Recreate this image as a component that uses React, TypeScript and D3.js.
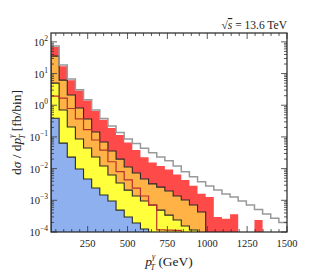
import React from 'react';
import * as d3 from 'd3';

// 29 equal bins from 20 to 1500 GeV
const binEdges = [
  20, 71, 122, 173, 224, 275, 326, 377, 428, 479, 530, 581, 632, 683, 734,
  786, 837, 888, 939, 990, 1041, 1092, 1143, 1194, 1245, 1296, 1347, 1398, 1449, 1500
];

// fb/bin per bin (0 = empty)
const redFill = [
  69, 17, 6.2, 2.9, 1.4, 0.66, 0.35, 0.19, 0.115, 0.067, 0.039, 0.023, 0.0156, 0.012,
  0.0094, 0.0065, 0.0044, 0.0029, 0.0016, 0.00127, 0.0003, 0.00026, 0.00036, 0, 0,
  0.00024, 0, 0, 0
];
const orangeFill = [
  35.6, 6.2, 2.1, 0.82, 0.37, 0.143, 0.069, 0.036, 0.02, 0.0112, 0.0073, 0.0047, 0.0033,
  0.0026, 0.00196, 0.00137, 0.00102, 0.00071, 0.00043, 0, 0, 0, 0, 0, 0, 0, 0, 0, 0
];
const yellowFill = [
  5.0, 0.71, 0.205, 0.086, 0.0447, 0.0232, 0.0121, 0.0063, 0.0035, 0.0021, 0.00137,
  0.00095, 0.00071, 0.00049, 0.00034, 0.00024, 0.000155, 0.000116, 0, 0, 0, 0, 0, 0, 0,
  0, 0, 0, 0
];
const blueFill = [
  0.39, 0.064, 0.023, 0.0097, 0.0047, 0.00244, 0.00147, 0.00095, 0.00049, 0.000297,
  0.000192, 0.000124, 0, 0, 0, 0, 0, 0, 0, 0, 0, 0, 0, 0, 0, 0, 0, 0, 0
];
const darkRedLine = [
  1.95, 1.69, 0.79, 0.37, 0.171, 0.08, 0.0386, 0.0165, 0.008, 0.0044, 0.00244, 0.00137,
  0.00071, 0.000116, 0.000115, 0.000112, 0, 0, 0, 0, 0, 0, 0, 0, 0, 0, 0, 0, 0
];
const grayLine = [
  74, 18.5, 6.7, 3.1, 1.5, 0.71, 0.38, 0.22, 0.138, 0.086, 0.062, 0.044, 0.0318, 0.0232,
  0.0178, 0.0121, 0.008, 0.00555, 0.00386, 0.00283, 0.00211, 0.00158, 0.00127, 0.00095,
  0.00071, 0.00051, 0.00037, 0.00027, 0.0002
];

const xMajorTicks = [250, 500, 750, 1000, 1250, 1500];
const yDecades = [-4, -3, -2, -1, 0, 1, 2];

const W = 319;
const H = 277;
const left = 51;
const right = 287;
const top = 33;
const bottom = 232;
const font = "'Liberation Serif', 'DejaVu Serif', serif";

const x = d3.scaleLinear().domain([20, 1500]).range([left, right]);
const y = d3.scaleLog().domain([1e-4, Math.pow(10, 2.28)]).range([bottom, top]);

// step outline through the bins, empty bins go below the frame
const stepPath = (vals: number[], closed: boolean) => {
  const yv = (v: number) => (v > 0 ? y(v) : bottom + 3);
  const pts: [number, number][] = [];
  if (closed) pts.push([x(binEdges[0]), bottom + 3]);
  vals.forEach((v, i) => {
    pts.push([x(binEdges[i]), yv(v)]);
    pts.push([x(binEdges[i + 1]), yv(v)]);
  });
  if (closed) pts.push([x(binEdges[binEdges.length - 1]), bottom + 3]);
  return d3.line()(pts) + (closed ? 'Z' : '');
};

const Ticks = () => {
  const items: JSX.Element[] = [];
  const minorX = d3.range(50, 1500, 50).filter((t) => t % 250 !== 0);
  minorX.forEach((t) => {
    items.push(<line key={'bx' + t} x1={x(t)} x2={x(t)} y1={bottom} y2={bottom - 3} />);
    items.push(<line key={'tx' + t} x1={x(t)} x2={x(t)} y1={top} y2={top + 3} />);
  });
  xMajorTicks.forEach((t) => {
    items.push(<line key={'bX' + t} x1={x(t)} x2={x(t)} y1={bottom} y2={bottom - 6} />);
    items.push(<line key={'tX' + t} x1={x(t)} x2={x(t)} y1={top} y2={top + 6} />);
  });
  yDecades.forEach((d) => {
    const base = Math.pow(10, d);
    items.push(<line key={'lY' + d} x1={left} x2={left + 6} y1={y(base)} y2={y(base)} />);
    items.push(<line key={'rY' + d} x1={right} x2={right - 6} y1={y(base)} y2={y(base)} />);
    d3.range(2, 10).forEach((m) => {
      const v = base * m;
      if (y(v) < top) return;
      items.push(<line key={'ly' + d + m} x1={left} x2={left + 3} y1={y(v)} y2={y(v)} />);
      items.push(<line key={'ry' + d + m} x1={right} x2={right - 3} y1={y(v)} y2={y(v)} />);
    });
  });
  return <g stroke="#333" strokeWidth={0.8}>{items}</g>;
};

export default function App() {
  const outline = '#2a2a2a';
  return (
    <svg
      width={W}
      height={H}
      style={{ position: 'absolute', left: 0, top: 0, background: '#fff' }}
      fontFamily={font}
    >
      <defs>
        <clipPath id="plot">
          <rect x={left} y={top} width={right - left} height={bottom - top} />
        </clipPath>
      </defs>
      <g clipPath="url(#plot)">
        <path d={stepPath(redFill, true)} fill="#ff4a4a" stroke="none" />
        <path d={stepPath(orangeFill, true)} fill="#ffb347" stroke={outline} strokeWidth={1.1} />
        <path d={stepPath(yellowFill, true)} fill="#ffff3c" stroke={outline} strokeWidth={1.1} />
        <path d={stepPath(blueFill, true)} fill="#8fb0ee" stroke={outline} strokeWidth={1.1} />
        <path d={stepPath(darkRedLine, false)} fill="none" stroke="#b8312c" strokeWidth={1.2} />
        <path d={stepPath(grayLine, false)} fill="none" stroke="#999" strokeWidth={1.5} />
      </g>
      <Ticks />
      <rect x={left} y={top} width={right - left} height={bottom - top} fill="none" stroke="#222" strokeWidth={1.2} />

      {/* tick labels */}
      <g fontSize={10.5} fill="#222">
        {xMajorTicks.map((t) => (
          <text key={t} x={x(t)} y={bottom + 15} textAnchor="middle">
            {t}
          </text>
        ))}
        {yDecades.map((d) => (
          <text key={d} x={left - 3} y={y(Math.pow(10, d)) + 4} textAnchor="end">
            10
            <tspan fontSize={7.5} dy={-5}>
              {d < 0 ? '\u2212' + -d : String(d)}
            </tspan>
          </text>
        ))}
      </g>

      <text x={right} y={top - 4} textAnchor="end" fontSize={11.5} fill="#222">
        √<tspan textDecoration="overline" fontStyle="italic">s</tspan> = 13.6 TeV
      </text>

      <text x={(left + right) / 2} y={266} textAnchor="middle" fontSize={13.5} fill="#222">
        <tspan fontStyle="italic">p</tspan>
        <tspan fontSize={8} dy={-7} fontStyle="italic">γ</tspan>
        <tspan fontSize={8} dx={-4.5} dy={11} fontStyle="italic">T</tspan>
        <tspan dy={-4}> (GeV)</tspan>
      </text>

      <text
        transform={`translate(21,${(top + bottom) / 2}) rotate(-90)`}
        textAnchor="middle"
        fontSize={13.5}
        fill="#222"
      >
        d<tspan fontStyle="italic">σ</tspan> / d<tspan fontStyle="italic">p</tspan>
        <tspan fontSize={8} dy={-7} fontStyle="italic">γ</tspan>
        <tspan fontSize={8} dx={-4.5} dy={11} fontStyle="italic">T</tspan>
        <tspan dy={-4}> [fb/bin]</tspan>
      </text>
    </svg>
  );
}
